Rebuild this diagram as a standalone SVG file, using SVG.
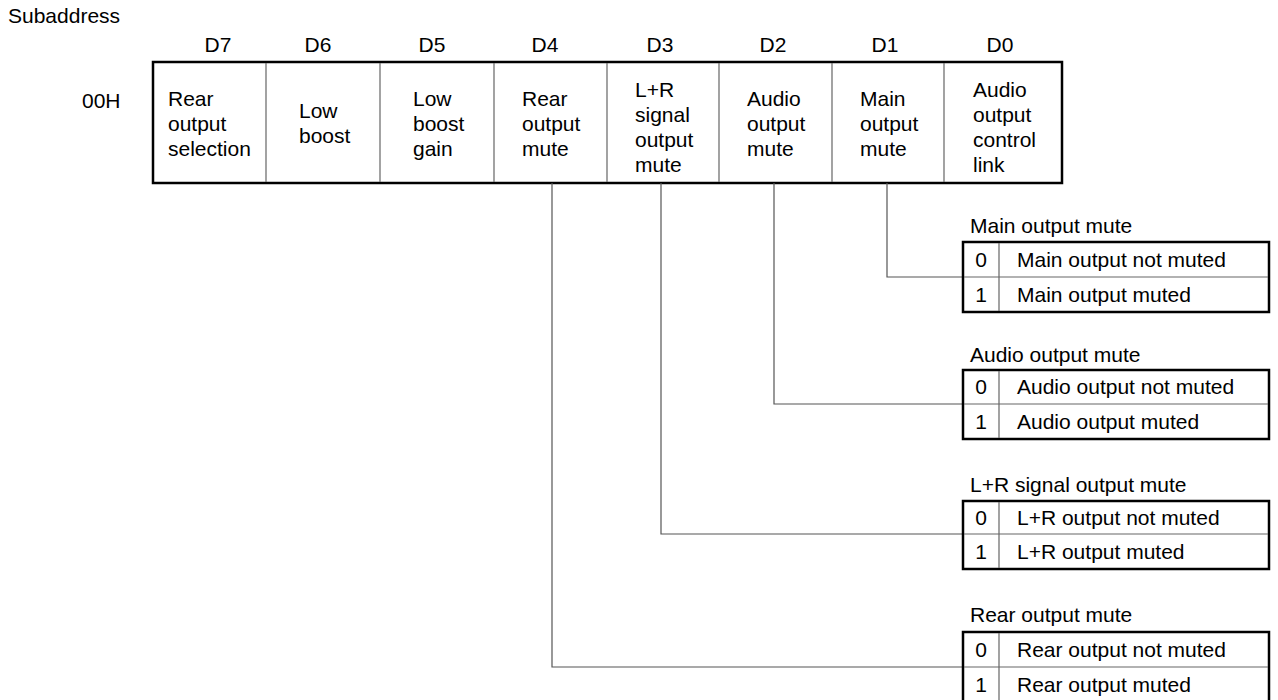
<svg xmlns="http://www.w3.org/2000/svg" width="1278" height="700" viewBox="0 0 1278 700">
<style>
text{font-family:"Liberation Sans",Arial,sans-serif;font-size:21px;fill:#000}
.c{text-anchor:middle}
.outer{fill:#fff;stroke:#000;stroke-width:2.5}
.div{stroke:#666;stroke-width:1.2;fill:none}
.conn{stroke:#555;stroke-width:1.2;fill:none}
</style>
<rect width="1278" height="700" fill="#fff"/>
<text x="8" y="23">Subaddress</text>
<text x="82" y="108">00H</text>
<g id="register">
<rect class="outer" x="153" y="62" width="909" height="121"/>
<path class="div" d="M266 63V182M380 63V182M494 63V182M607 63V182M719 63V182M832 63V182M944 63V182"/>
<text class="c" x="218" y="52">D7</text>
<text class="c" x="318" y="52">D6</text>
<text class="c" x="432" y="52">D5</text>
<text class="c" x="545" y="52">D4</text>
<text class="c" x="660" y="52">D3</text>
<text class="c" x="773" y="52">D2</text>
<text class="c" x="885" y="52">D1</text>
<text class="c" x="1000" y="52">D0</text>
</g>
<g id="d7"><text x="168" y="106">Rear</text><text x="168" y="131">output</text><text x="168" y="156">selection</text></g>
<g id="d6"><text x="299" y="118">Low</text><text x="299" y="143">boost</text></g>
<g id="d5"><text x="413" y="106">Low</text><text x="413" y="131">boost</text><text x="413" y="156">gain</text></g>
<g id="d4"><text x="522" y="106">Rear</text><text x="522" y="131">output</text><text x="522" y="156">mute</text></g>
<g id="d3"><text x="635" y="97">L+R</text><text x="635" y="122">signal</text><text x="635" y="147">output</text><text x="635" y="172">mute</text></g>
<g id="d2"><text x="747" y="106">Audio</text><text x="747" y="131">output</text><text x="747" y="156">mute</text></g>
<g id="d1"><text x="860" y="106">Main</text><text x="860" y="131">output</text><text x="860" y="156">mute</text></g>
<g id="d0"><text x="973" y="97">Audio</text><text x="973" y="122">output</text><text x="973" y="147">control</text><text x="973" y="172">link</text></g>
<g id="connectors">
<path class="conn" d="M887 183V277H963"/>
<path class="conn" d="M774 183V404H963"/>
<path class="conn" d="M661 183V534H963"/>
<path class="conn" d="M552 183V667H963"/>
</g>
<g id="t-main">
<text x="970" y="233">Main output mute</text>
<rect class="outer" x="963" y="242" width="306" height="70"/>
<path class="div" d="M999 243V311M964 277H1268"/>
<text class="c" x="981" y="267">0</text><text x="1017" y="267">Main output not muted</text>
<text class="c" x="981" y="302">1</text><text x="1017" y="302">Main output muted</text>
</g>
<g id="t-audio">
<text x="970" y="362">Audio output mute</text>
<rect class="outer" x="963" y="370" width="306" height="69"/>
<path class="div" d="M999 371V438M964 404H1268"/>
<text class="c" x="981" y="394">0</text><text x="1017" y="394">Audio output not muted</text>
<text class="c" x="981" y="429">1</text><text x="1017" y="429">Audio output muted</text>
</g>
<g id="t-lr">
<text x="970" y="492">L+R signal output mute</text>
<rect class="outer" x="963" y="501" width="306" height="68"/>
<path class="div" d="M999 502V568M964 534H1268"/>
<text class="c" x="981" y="525">0</text><text x="1017" y="525">L+R output not muted</text>
<text class="c" x="981" y="559">1</text><text x="1017" y="559">L+R output muted</text>
</g>
<g id="t-rear">
<text x="970" y="622">Rear output mute</text>
<rect class="outer" x="963" y="632" width="306" height="70"/>
<path class="div" d="M999 633V701M964 667H1268"/>
<text class="c" x="981" y="657">0</text><text x="1017" y="657">Rear output not muted</text>
<text class="c" x="981" y="692">1</text><text x="1017" y="692">Rear output muted</text>
</g>
</svg>
